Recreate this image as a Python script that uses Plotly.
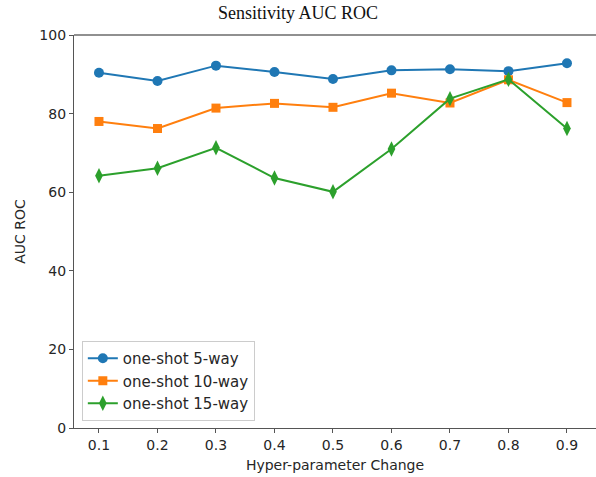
import plotly.graph_objects as go

x_vals = [0.1, 0.2, 0.3, 0.4, 0.5, 0.6, 0.7, 0.8, 0.9]
five_way = [90.4, 88.3, 92.2, 90.6, 88.8, 91.0, 91.3, 90.8, 92.8]
ten_way = [78.0, 76.2, 81.4, 82.6, 81.6, 85.2, 82.7, 88.6, 82.8]
fifteen_way = [64.2, 66.1, 71.3, 63.6, 60.1, 71.0, 83.8, 88.7, 76.2]
series_names = ["one-shot 5-way", "one-shot 10-way", "one-shot 15-way"]
x_ticks = [0.1, 0.2, 0.3, 0.4, 0.5, 0.6, 0.7, 0.8, 0.9]
y_ticks = [0, 20, 40, 60, 80, 100]

colors = ["#1f77b4", "#ff7f0e", "#2ca02c"]
symbols = ["circle", "square", "diamond-tall"]
sizes = [10, 9, 11]

fig = go.Figure()
for name, ys, c, s, sz in zip(series_names, [five_way, ten_way, fifteen_way], colors, symbols, sizes):
    fig.add_trace(go.Scatter(
        x=x_vals, y=ys, name=name, mode="lines+markers",
        line=dict(color=c, width=2),
        marker=dict(color=c, symbol=s, size=sz, line=dict(width=0)),
    ))

fig.update_layout(
    width=596, height=477,
    margin=dict(l=74, r=0, t=35, b=49),
    paper_bgcolor="white", plot_bgcolor="white",
    font=dict(family="DejaVu Sans", size=14, color="#262626"),
    title=dict(text="Sensitivity AUC ROC", x=0.5, xref="container", xanchor="center",
               y=0.973, yref="container", yanchor="middle",
               font=dict(family="Liberation Serif", size=18, color="#111")),
    xaxis=dict(range=[0.1 - 0.0427, 0.9 + 0.0496], tickvals=x_ticks,
               tickformat=".1f", showgrid=False, zeroline=False,
               showline=True, linecolor="#555", linewidth=1.2,
               ticks="outside", ticklen=4, tickcolor="#555",
               tickfont=dict(size=14),
               title=dict(text="Hyper-parameter Change", standoff=8, font=dict(size=14))),
    yaxis=dict(range=[0, 100], tickvals=y_ticks, showgrid=False, zeroline=False,
               showline=True, linecolor="#555", linewidth=1.2,
               ticks="outside", ticklen=4, tickcolor="#555",
               tickfont=dict(size=14),
               title=dict(text="AUC ROC", standoff=10, font=dict(size=14))),
    legend=dict(x=0.015, y=0.018, xanchor="left", yanchor="bottom",
                bgcolor="rgba(255,255,255,0.8)", bordercolor="#ccc", borderwidth=1,
                font=dict(size=15), tracegroupgap=0, itemwidth=30),
    showlegend=True,
)
fig.add_shape(type="line", xref="paper", yref="paper", x0=0, x1=1, y0=1, y1=1,
              line=dict(color="#222", width=1.2))

fig.write_html("out.html")
